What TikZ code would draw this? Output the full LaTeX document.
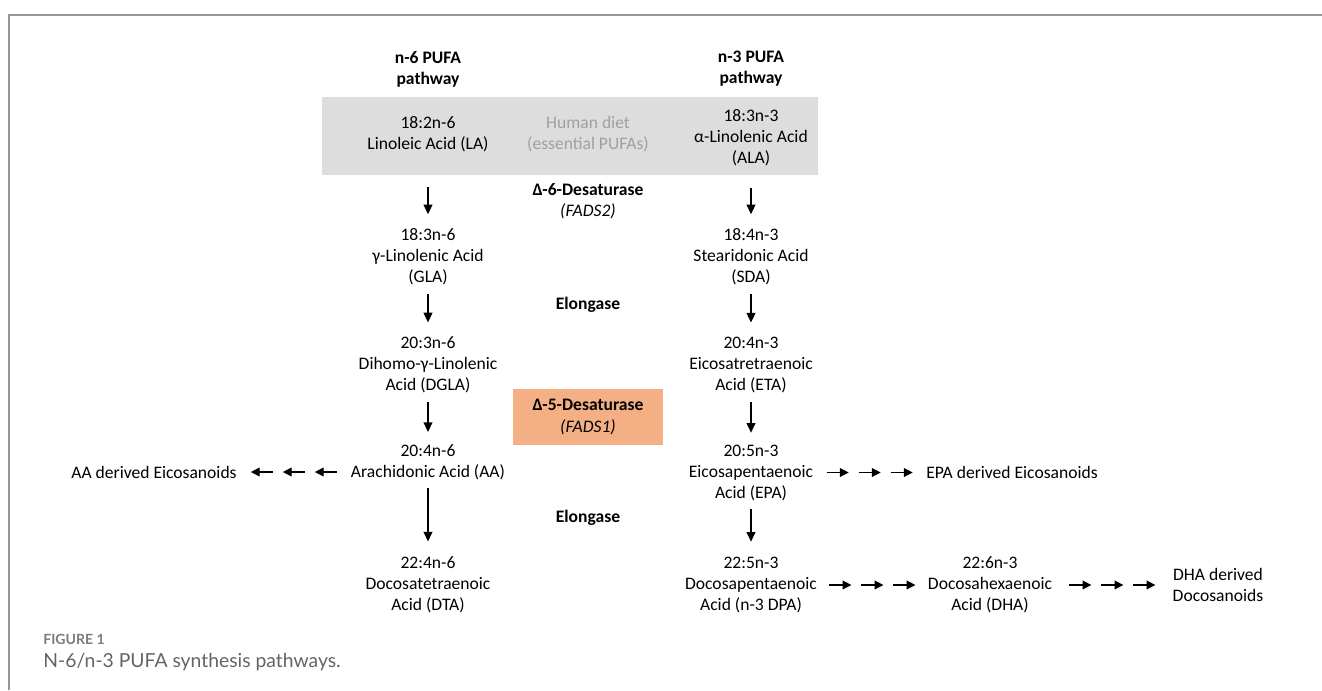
\documentclass[tikz,border=0pt]{standalone}
\usepackage{fontspec}
\setmainfont{Carlito}
\newfontfamily\capfont{Lato}
\usetikzlibrary{arrows.meta,calc}

\definecolor{dietgray}{RGB}{221,221,221}
\definecolor{diettext}{RGB}{160,160,160}
\definecolor{fadsorange}{RGB}{244,176,132}
\definecolor{framegray}{RGB}{150,150,150}
\definecolor{capgray}{RGB}{100,100,100}

\begin{document}
\begin{tikzpicture}[x=0.02cm, y=-0.02cm,
  acid/.style={align=center, inner sep=0pt, font=\fontsize{10}{12}\selectfont},
  flow/.style={-{Triangle[width=5pt,length=5.5pt]}, line width=0.85pt,
    shorten <=5pt, shorten >=8pt},
  chain/.style={-{Triangle[width=5pt,length=5pt]}, line width=0.6pt}]
  \useasboundingbox (0,0) rectangle (1322,690);
  % frame of the figure panel
  \draw[framegray, line width=1.1pt] (1322,15) -- (9,15) -- (9,690);
  % dietary band (essential PUFAs)
  \fill[dietgray] (322,97) rectangle (818,175);

  % column heads
  \node[acid, font=\fontsize{10}{12}\selectfont\bfseries] (n6head) at (428,69) {n-6 PUFA\\pathway};
  \node[acid, font=\fontsize{10}{12}\selectfont\bfseries] (n3head) at (751,69) {n-3 PUFA\\pathway};

  % n-6 pathway
  \node[acid] (la)   at (428,134) {18:2n-6\\Linoleic Acid (LA)};
  \node[acid] (gla)  at (428,257) {18:3n-6\\γ-Linolenic Acid\\(GLA)};
  \node[acid] (dgla) at (428,365) {20:3n-6\\Dihomo-γ-Linolenic\\Acid (DGLA)};
  \node[acid] (aa)   at (428,462) {20:4n-6\\Arachidonic Acid (AA)};
  \node[acid] (dta)  at (428,585) {22:4n-6\\Docosatetraenoic\\Acid (DTA)};
  \node[acid] (aaeic) at (154,472) {AA derived Eicosanoids};

  % n-3 pathway
  \node[acid] (ala)  at (751,138) {18:3n-3\\α-Linolenic Acid\\(ALA)};
  \node[acid] (sda)  at (751,257) {18:4n-3\\Stearidonic Acid\\(SDA)};
  \node[acid] (eta)  at (751,365) {20:4n-3\\Eicosatretraenoic\\Acid (ETA)};
  \node[acid] (epa)  at (751,473) {20:5n-3\\Eicosapentaenoic\\Acid (EPA)};
  \node[acid] (dpa)  at (751,585) {22:5n-3\\Docosapentaenoic\\Acid (n-3 DPA)};
  \node[acid] (dha)  at (990,585) {22:6n-3\\Docosahexaenoic\\Acid (DHA)};
  \node[acid] (epaeic) at (1012,472) {EPA derived Eicosanoids};
  \node[acid] (dhader) at (1218,585) {DHA derived\\Docosanoids};

  % enzymes in the middle column
  \node[acid, text=diettext] (diet) at (588,134) {Human diet\\(essential PUFAs)};
  \node[acid] (fads2) at (588,201) {\textbf{Δ-6-Desaturase}\\\textit{(FADS2)}};
  \node[acid, font=\fontsize{10}{12}\selectfont\bfseries] (elong1) at (588,305) {Elongase};
  \node[acid, fill=fadsorange, minimum width=3cm, minimum height=1.12cm] (fads1) at (588,417)
    {\textbf{Δ-5-Desaturase}\\\textit{(FADS1)}};
  \node[acid, font=\fontsize{10}{12}\selectfont\bfseries] (elong2) at (588,518) {Elongase};

  % conversion steps
  \draw[flow, shorten <=20pt] (la) -- (gla);
  \draw[flow, shorten <=12pt] (ala) -- (sda);
  \draw[flow] (gla) -- (dgla);
  \draw[flow] (sda) -- (eta);
  \draw[flow, shorten >=6.8pt] (dgla) -- (aa);
  \draw[flow, shorten >=6.8pt] (eta) -- (epa);
  \draw[flow, shorten <=4.3pt, shorten >=8.5pt] (aa) -- (dta);
  \draw[flow, shorten <=4.3pt, shorten >=8.5pt] (epa) -- (dpa);

  % multi-step routes to the eicosanoids / docosanoids
  \coordinate (aamid)  at ($(aaeic.east)!0.5!(aa.west |- aaeic)$);
  \coordinate (epamid) at ($(epa.east)!0.5!(epaeic.west)$);
  \coordinate (dpamid) at ($(dpa.east)!0.5!(dha.west)$);
  \coordinate (dhamid) at ($(dha.east)!0.5!(dhader.west |- dha)$);
  \foreach \i in {0,1,2}
    \draw[chain] ($(aamid)+(43-32*\i,0)$) -- ++(-22,0);
  \foreach \m in {epamid,dpamid,dhamid}
    \foreach \i in {0,1,2}
      \draw[chain] ($(\m)+(-43+32*\i,0)$) -- ++(22,0);

  % caption
  \node[anchor=west, inner sep=0pt, text=capgray!85,
    font=\capfont\bfseries\fontsize{8}{10}\selectfont] (figlabel) at (43,639) {FIGURE 1};
  \node[anchor=west, inner sep=0pt, text=capgray,
    font=\capfont\fontsize{11}{13}\selectfont] (figcap) at (43,662) {N-6/n-3 PUFA synthesis pathways.};
\end{tikzpicture}
\end{document}
